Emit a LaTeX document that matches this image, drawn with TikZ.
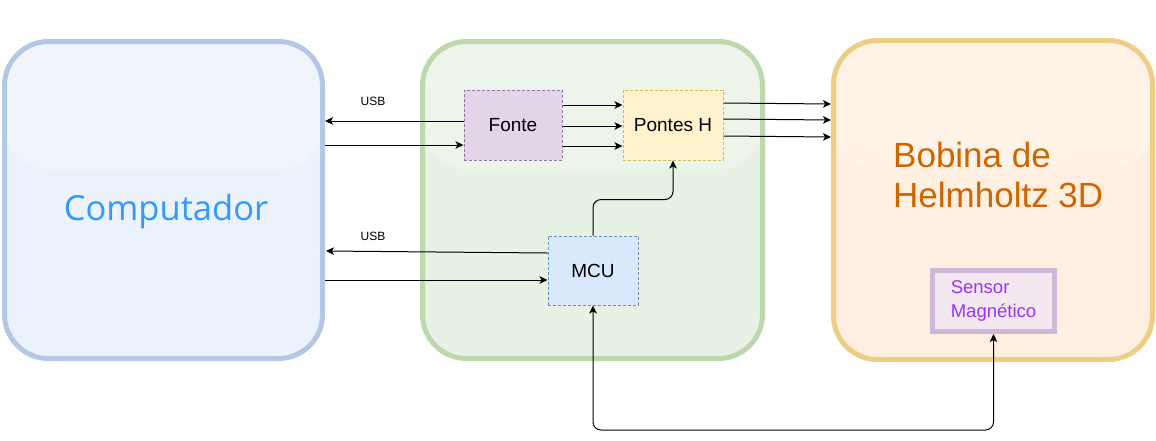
\documentclass[tikz,border=0pt]{standalone}
\usepackage{fontspec}
\setmainfont{Liberation Sans}
\newfontfamily\compfont{Open Sans}
\usetikzlibrary{arrows.meta,calc}
\definecolor{compfill}{HTML}{EBF2FC}
\definecolor{compline}{HTML}{B4C8E4}
\definecolor{compblue}{HTML}{3399FF}
\definecolor{grnfill}{HTML}{E7F1E4}
\definecolor{grnline}{HTML}{BDD7AE}
\definecolor{orgfill}{HTML}{FFEFE1}
\definecolor{orgline}{HTML}{EECD85}
\definecolor{orgtext}{HTML}{CC6600}
\definecolor{fontefill}{HTML}{E1D5E7}
\definecolor{fonteline}{HTML}{9673A6}
\definecolor{ponfill}{HTML}{FFF2CC}
\definecolor{ponline}{HTML}{D6B656}
\definecolor{mcufill}{HTML}{DAE8FC}
\definecolor{mculine}{HTML}{6C8EBF}
\definecolor{sensfill}{HTML}{F4E8F0}
\definecolor{sensline}{HTML}{CDB9D7}
\definecolor{senstext}{HTML}{9933FF}
\begin{document}
\begin{tikzpicture}[x=1pt,y=-1pt,
  cont/.style={draw, line width=5pt, outer sep=2.5pt, rounded corners=44pt, inner sep=0pt,
    path picture={\fill[white,opacity=.25] (path picture bounding box.north west) rectangle ($(path picture bounding box.north east)+(0,128)$);}},
  blk/.style={draw, line width=1pt, dash pattern=on 3pt off 2pt, inner sep=0pt, outer sep=0.5pt, font=\fontsize{19}{22}\selectfont},
  arr/.style={line width=1pt, -{Stealth[length=8pt,width=7.5pt,inset=2pt]}},
  arrb/.style={line width=1pt, {Stealth[length=8pt,width=7.5pt,inset=2pt]}-{Stealth[length=8pt,width=7.5pt,inset=2pt]}},
  usb/.style={font=\fontsize{12}{14}\selectfont}
]
\useasboundingbox (0,0) rectangle (1156,440);

% containers
\node[cont, draw=compline, fill=compfill, minimum width=318pt, minimum height=317pt] (comp) at (163.5,200) {};
\node[cont, draw=grnline, fill=grnfill, minimum width=340pt, minimum height=317pt] (ctrl) at (592.5,200) {};
\node[cont, draw=orgline, fill=orgfill, minimum width=319pt, minimum height=319pt] (bob) at (993,200) {};

% container texts
\node[font=\compfont\fontsize{34.5}{41}\selectfont, text=compblue, anchor=base, inner sep=0pt] (comptxt) at (166,220) {Computador};
\node[font=\fontsize{35}{40}\selectfont, text=orgtext, anchor=base west, inner sep=0pt] (bobtxt1) at (893,167) {Bobina de};
\node[font=\fontsize{35}{40}\selectfont, text=orgtext, anchor=base west, inner sep=0pt] (bobtxt2) at (893,207) {Helmholtz 3D};

% blocks
\node[blk, draw=fonteline, fill=fontefill, minimum width=98pt, minimum height=70pt] (fonte) at (513,125) {\raisebox{-2pt}{Fonte}};
\node[blk, draw=ponline, fill=ponfill, minimum width=100pt, minimum height=70pt] (pontes) at (673,125) {\raisebox{-1pt}{Pontes H}};
\node[blk, draw=mculine, fill=mcufill, minimum width=90pt, minimum height=69pt] (mcu) at (593,270.5) {\raisebox{-1pt}{MCU}};
\node[draw=sensline, fill=sensfill, line width=5pt, outer sep=2.5pt, minimum width=122pt, minimum height=61pt,
  align=left, text=senstext, font=\fontsize{18.5}{23.5}\selectfont, inner sep=0pt] (sensor) at (993.5,301) {Sensor\\Magnético};

% USB labels
\node[usb] (usb1) at (373,101) {USB};
\node[usb] (usb2) at (373,236) {USB};

% Fonte <-> Computador
\draw[arr] ($(fonte.west)+(0,-4)$) coordinate (f1) -- (comp.east |- f1);
\draw[arr] ($(fonte.west)+(0,20)$) coordinate (f2) (comp.east |- f2) -- (f2);

% Fonte -> Pontes H
\draw[arr] ($(fonte.east)+(0,-20)$) coordinate (p1) -- (pontes.west |- p1);
\draw[arr] ($(fonte.east)+(0,1)$) coordinate (p2) -- (pontes.west |- p2);
\draw[arr] ($(fonte.east)+(0,21)$) coordinate (p3) -- (pontes.west |- p3);

% Pontes H -> Bobina
\draw[arr] ($(pontes.east)+(0,-22)$) -- ($(bob.west)+(0,-96)$);
\draw[arr] ($(pontes.east)+(0,-6)$) -- ($(bob.west)+(0,-80)$);
\draw[arr] ($(pontes.east)+(0,11)$) -- ($(bob.west)+(0,-63)$);

% MCU <-> Computador
\draw[arr] ($(mcu.west)+(0,-17.5)$) -- ($(comp.east)+(1,51)$);
\draw[arr] ($(mcu.west)+(0,9.5)$) coordinate (m2) (comp.east |- m2) -- (m2);

% MCU -> Pontes H
\draw[arr, rounded corners=8pt] (mcu.north) -- ++(0,-36) -| (pontes.south);

% MCU <-> Sensor
\draw[arrb, rounded corners=8pt] (mcu.south) -- (mcu.south |- 0,430) -| (sensor.south);
\end{tikzpicture}
\end{document}
